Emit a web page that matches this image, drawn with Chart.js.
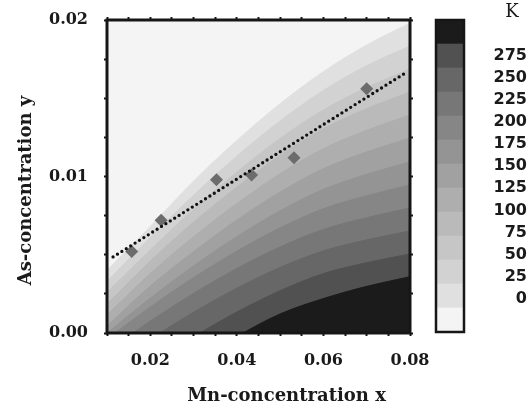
<!DOCTYPE html>
<html>
<head>
<meta charset="utf-8">
<script src="https://cdn.jsdelivr.net/npm/chart.js@4/dist/chart.umd.min.js"></script>
<style>
  html, body { margin: 0; padding: 0; background: #fff; }
  #wrap { position: relative; width: 532px; height: 413px; }
  #mainChart { position: absolute; left: 0; top: 0; }
  #barChart { position: absolute; left: 425px; top: 0; }
</style>
</head>
<body>
<div id="wrap">
  <canvas id="mainChart" width="532" height="413"></canvas>
  <canvas id="barChart" width="107" height="413"></canvas>
</div>
<script>
// axis ticks and labels
const xTickMarks = [0.01, 0.015, 0.02, 0.025, 0.03, 0.035, 0.04, 0.045, 0.05, 0.055, 0.06, 0.065, 0.07, 0.075, 0.08];
const xTickLabels = [0.02, 0.04, 0.06, 0.08];
const yTickMarks = [0, 0.0025, 0.005, 0.0075, 0.01, 0.0125, 0.015, 0.0175, 0.02];
const yTickLabels = [0, 0.01, 0.02];
const cbarTicks = [0, 25, 50, 75, 100, 125, 150, 175, 200, 225, 250, 275];

// grey tones, lightest (top left of the map) to darkest
const tones = ['#f4f4f4', '#e0e0e0', '#d2d2d2', '#c6c6c6', '#bababa', '#aeaeae', '#a1a1a1',
               '#949494', '#868686', '#777777', '#676767', '#515151', '#1b1b1b'];

// contour boundaries y(x), sampled at contourX; b1 is the edge of the lightest band
const contourX = [0.01, 0.02, 0.03, 0.04, 0.05, 0.06, 0.07, 0.08];
const b1  = [0.004, 0.0068, 0.0097, 0.0123, 0.01465, 0.0167, 0.0184, 0.0198];
const b2  = [0.0033, 0.0061, 0.0088, 0.0113, 0.01355, 0.0155, 0.01708, 0.01834];
const b3  = [0.0026, 0.0053, 0.0079, 0.01028, 0.01243, 0.01425, 0.01568, 0.01687];
const b4  = [0.00185, 0.0046, 0.00708, 0.00932, 0.01134, 0.01305, 0.01433, 0.0154];
const b5  = [0.00115, 0.0038, 0.00615, 0.00827, 0.01018, 0.01178, 0.01295, 0.01393];
const b6  = [0.00045, 0.003, 0.0052, 0.00722, 0.00901, 0.0105, 0.01157, 0.01246];
const b7  = [0, 0.00223, 0.00429, 0.00616, 0.00781, 0.00918, 0.01014, 0.01093];
const b8  = [-0.00038, 0.00166, 0.00354, 0.00523, 0.00672, 0.00794, 0.00877, 0.00946];
const b9  = [-0.00118, 0.00076, 0.00253, 0.00412, 0.0055, 0.00662, 0.00737, 0.00799];
const b10 = [-0.00228, -0.00039, 0.00133, 0.00286, 0.00419, 0.00525, 0.00595, 0.00652];
const b11 = [-0.00403, -0.00205, -0.00025, 0.00134, 0.0027, 0.0038, 0.00449, 0.00505];
const b12 = [-0.00595, -0.00382, -0.0019, -0.00022, 0.00122, 0.0022, 0.00298, 0.0036];

// measured samples
const sampleX = [0.0157, 0.0225, 0.0353, 0.0434, 0.0532, 0.07];
const sampleY = [0.0052, 0.0072, 0.0098, 0.0101, 0.0112, 0.0156];

// linear fit through the samples
const fitX = [0.0114, 0.0793];
const fitY = [0.00486, 0.01668];

const serifBold = { family: '"DejaVu Serif"', size: 16, weight: 'bold' };

function near(list, v) {
    return list.find(l => Math.abs(l - v) < 1e-9);
}

// keep the plot box where it is: no extra room for half-height edge labels
function fixSize(prop, size) {
    return s => {
        s[prop] = size;
        s.paddingTop = 0; s.paddingBottom = 0; s.paddingLeft = 0; s.paddingRight = 0;
    };
}

const boundaries = [b1, b2, b3, b4, b5, b6, b7, b8, b9, b10, b11, b12];
const bandSets = boundaries.map((b, i) => ({
    type: 'line',
    data: contourX.map((x, j) => ({ x: x, y: b[j] })),
    backgroundColor: tones[i + 1],
    borderColor: tones[i + 1],
    borderWidth: 1,
    pointRadius: 0,
    fill: 'start',
    cubicInterpolationMode: 'monotone',
    order: 14 - i
}));

// light background of the plot + thick frame
const plotFrame = {
    id: 'plotFrame',
    beforeDatasetsDraw(chart) {
        const a = chart.chartArea, ctx = chart.ctx;
        ctx.save();
        ctx.fillStyle = tones[0];
        ctx.fillRect(a.left, a.top, a.right - a.left, a.bottom - a.top);
        ctx.restore();
    },
    afterDatasetsDraw(chart) {
        const a = chart.chartArea, ctx = chart.ctx;
        ctx.save();
        ctx.strokeStyle = '#161616';
        ctx.lineWidth = 3;
        ctx.strokeRect(a.left, a.top, a.right - a.left, a.bottom - a.top);
        ctx.restore();
    }
};

const axisTitles = {
    id: 'axisTitles',
    afterDraw(chart) {
        const a = chart.chartArea, ctx = chart.ctx;
        ctx.save();
        ctx.fillStyle = '#1a1a1a';
        ctx.font = 'bold 18px "DejaVu Serif"';
        ctx.textAlign = 'center';
        ctx.textBaseline = 'middle';
        ctx.fillText('Mn-concentration x', (a.left + a.right) / 2 + 28, a.bottom + 63);
        ctx.translate(a.left - 81, (a.top + a.bottom) / 2 + 14);
        ctx.rotate(-Math.PI / 2);
        ctx.fillText('As-concentration y', 0, 0);
        ctx.restore();
    }
};

const tickGrid = { drawOnChartArea: false, tickLength: 3, tickWidth: 2, tickColor: '#161616' };

new Chart(document.getElementById('mainChart'), {
    type: 'line',
    data: {
        datasets: [
            {
                type: 'line',
                data: fitX.map((x, i) => ({ x: x, y: fitY[i] })),
                borderColor: '#111',
                borderWidth: 3.3,
                borderDash: [0, 5.2],
                borderCapStyle: 'round',
                pointRadius: 0,
                fill: false,
                order: 0
            },
            {
                type: 'scatter',
                data: sampleX.map((x, i) => ({ x: x, y: sampleY[i] })),
                pointStyle: 'rectRot',
                pointRadius: 6.5,
                backgroundColor: '#6c6c6c',
                borderWidth: 0,
                order: 1
            },
            ...bandSets
        ]
    },
    options: {
        responsive: false,
        animation: false,
        devicePixelRatio: 1,
        layout: { padding: { left: 0, right: 117, top: 15, bottom: 0 } },
        plugins: { legend: { display: false }, tooltip: { enabled: false } },
        scales: {
            x: {
                type: 'linear', position: 'bottom', min: 0.01, max: 0.08,
                afterBuildTicks: s => { s.ticks = xTickMarks.map(v => ({ value: v })); },
                ticks: {
                    autoSkip: false, maxRotation: 0, padding: 15, color: '#1a1a1a', font: serifBold,
                    callback: v => { const l = near(xTickLabels, v); return l === undefined ? '' : l.toFixed(2); }
                },
                grid: tickGrid,
                border: { display: false },
                afterFit: fixSize('height', 80)
            },
            x2: {
                type: 'linear', position: 'top', min: 0.01, max: 0.08,
                afterBuildTicks: s => { s.ticks = xTickMarks.map(v => ({ value: v })); },
                ticks: { display: false },
                grid: tickGrid,
                border: { display: false },
                afterFit: fixSize('height', 5)
            },
            y: {
                type: 'linear', position: 'left', min: 0, max: 0.02,
                afterBuildTicks: s => { s.ticks = yTickMarks.map(v => ({ value: v })); },
                ticks: {
                    autoSkip: false, padding: 16, color: '#1a1a1a', font: serifBold,
                    callback: v => { const l = near(yTickLabels, v); return l === undefined ? '' : l.toFixed(2); }
                },
                grid: tickGrid,
                border: { display: false },
                afterFit: fixSize('width', 107)
            },
            y2: {
                type: 'linear', position: 'right', min: 0, max: 0.02,
                afterBuildTicks: s => { s.ticks = yTickMarks.map(v => ({ value: v })); },
                ticks: { display: false },
                grid: tickGrid,
                border: { display: false },
                afterFit: fixSize('width', 5)
            }
        }
    },
    plugins: [plotFrame, axisTitles]
});

// colour bar
const barFrame = {
    id: 'barFrame',
    afterDatasetsDraw(chart) {
        const a = chart.chartArea, ctx = chart.ctx;
        ctx.save();
        ctx.strokeStyle = '#161616';
        ctx.lineWidth = 2.5;
        ctx.strokeRect(a.left, a.top, a.right - a.left, a.bottom - a.top);
        ctx.fillStyle = '#1a1a1a';
        ctx.font = '18px "DejaVu Serif"';
        ctx.textAlign = 'center';
        ctx.textBaseline = 'middle';
        ctx.fillText('K', a.right + 48, a.top - 8);
        ctx.restore();
    }
};

new Chart(document.getElementById('barChart'), {
    type: 'bar',
    data: {
        labels: [''],
        datasets: tones.map(c => ({
            data: [1], backgroundColor: c, borderWidth: 0,
            barPercentage: 1, categoryPercentage: 1, yAxisID: 'y'
        }))
    },
    options: {
        responsive: false,
        animation: false,
        devicePixelRatio: 1,
        layout: { padding: { left: 11, right: 5, top: 20, bottom: 81 } },
        plugins: { legend: { display: false }, tooltip: { enabled: false } },
        scales: {
            x: { display: false, stacked: true },
            y: { display: false, stacked: true, min: 0, max: tones.length },
            yLab: {
                type: 'linear', position: 'right', min: -37.27, max: 315.1,
                afterBuildTicks: s => { s.ticks = cbarTicks.map(v => ({ value: v })); },
                ticks: {
                    padding: 30, crossAlign: 'far', color: '#1a1a1a',
                    font: { family: '"DejaVu Sans"', size: 16, weight: 'bold' }
                },
                grid: { display: false, drawTicks: false },
                border: { display: false },
                afterFit: fixSize('width', 63)
            }
        }
    },
    plugins: [barFrame]
});
</script>
</body>
</html>
